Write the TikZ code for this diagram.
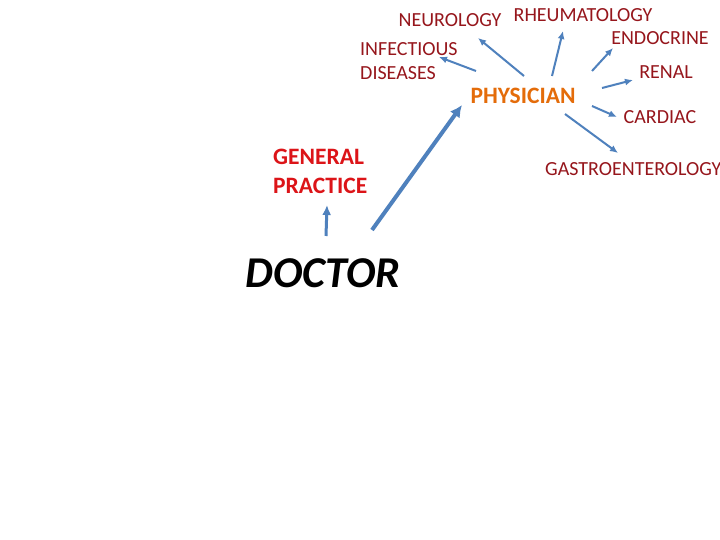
\documentclass[tikz,border=0pt]{standalone}
\usepackage{fontspec}
\setmainfont{Carlito}
\usepackage{xcolor}
\usetikzlibrary{arrows.meta}
\definecolor{specred}{RGB}{150,22,28}
\definecolor{gpred}{RGB}{220,20,24}
\definecolor{physorange}{RGB}{228,108,10}
\definecolor{arrowblue}{RGB}{79,129,189}

\begin{document}
\begin{tikzpicture}[x=1pt, y=-1pt, every node/.style={inner sep=0pt, font=\fontsize{20}{24}\selectfont}, spec/.style={text=specred}, arr/.style={draw=arrowblue, line width=2pt, -{Latex[length=8pt,width=7pt]}}]
  \useasboundingbox[fill=white] (0,0) rectangle (720,540);
  \node[spec](neuro) at (450,20) {NEUROLOGY};
  \node[spec](rheum) at (583,15) {RHEUMATOLOGY};
  \node[spec](endo) at (660,38) {ENDOCRINE};
  \node[spec, anchor=west, align=left](infect) at (360,61) {INFECTIOUS\\DISEASES};
  \node[spec](renal) at (666,72) {RENAL};
  \node[spec](cardiac) at (660,117) {CARDIAC};
  \node[spec, anchor=west](gastro) at (545,169) {GASTROENTEROLOGY};
  \node[text=physorange, font=\fontsize{23.5}{28}\selectfont\bfseries](phys) at (523,96) {PHYSICIAN};
  \node[text=gpred, anchor=west, align=left, font=\fontsize{23.5}{29}\selectfont\bfseries](general) at (273,171.5) {GENERAL\\PRACTICE};
  \node[font=\fontsize{44}{50}\selectfont\bfseries\itshape](doctor) at (323,273) {DOCTOR};
  \draw[arr] ([shift={(1,-20)}]phys.center) -- ([shift={(28,18)}]neuro.center);
  \draw[arr] ([shift={(29,-20)}]phys.center) -- ([shift={(-20,16)}]rheum.center);
  \draw[arr] ([shift={(69,-25)}]phys.center) -- ([shift={(-47,10)}]endo.center);
  \draw[arr] ([shift={(-47,-25)}]phys.center) -- ([shift={(79,-4)}]infect.west);
  \draw[arr] ([shift={(79,-8)}]phys.center) -- ([shift={(-33,8)}]renal.center);
  \draw[arr] ([shift={(69,10)}]phys.center) -- ([shift={(-43,0)}]cardiac.center);
  \draw[arr] ([shift={(42,18)}]phys.center) -- ([shift={(73,-16)}]gastro.west);
  \draw[arr, line width=4pt, -{Latex[length=12pt,width=12pt]}] ([shift={(49,-43)}]doctor.center) -- ([shift={(-61,9)}]phys.center);
  \draw[arr, line width=3pt, -{Latex[length=10pt,width=9pt]}] ([shift={(3,-37)}]doctor.center) -- ([shift={(54,33.5)}]general.west);
\end{tikzpicture}
\end{document}
